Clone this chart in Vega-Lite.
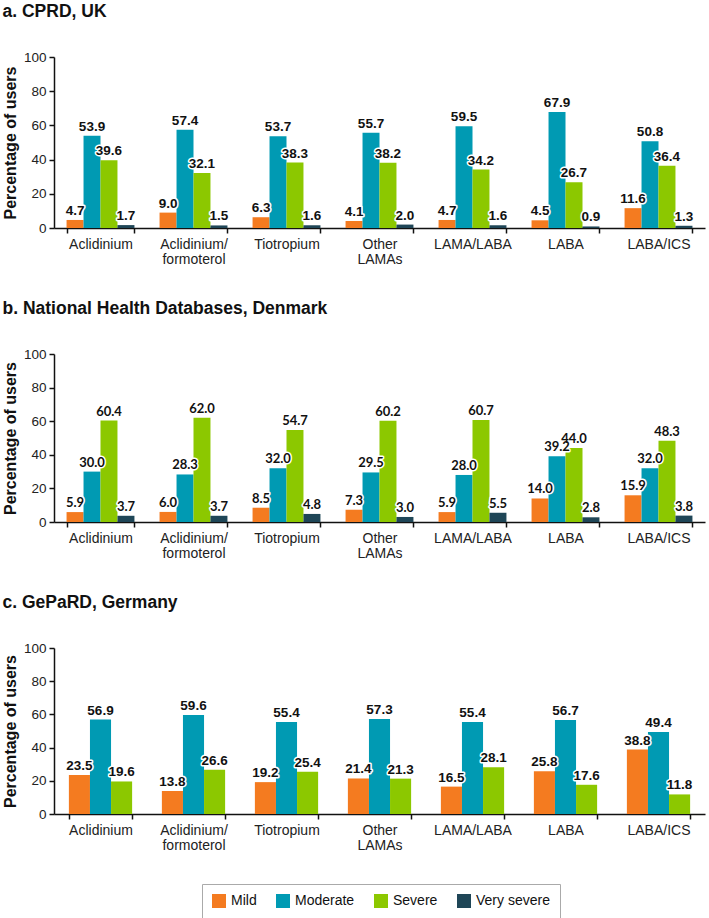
{
  "$schema": "https://vega.github.io/schema/vega-lite/v6.json",
  "padding": {"left": 2, "top": 2, "right": 2, "bottom": 0},
  "background": "white",
  "config": {
    "view": {"stroke": null},
    "font": "Liberation Sans",
    "title": {"font": "Liberation Sans", "fontSize": 17.5, "fontWeight": "bold", "anchor": "start", "frame": "bounds", "color": "#111111", "offset": 30},
    "axis": {"domainColor": "#111111", "domainWidth": 1.5, "tickColor": "#111111", "tickWidth": 1.5, "tickSize": 5, "labelFont": "Liberation Sans", "labelColor": "#222222", "grid": false},
    "axisX": {"labelFontSize": 14, "labelAngle": 0, "labelPadding": 4, "tickBand": "extent", "labelLineHeight": 15, "labelBaseline": "top", "title": null},
    "axisY": {"labelFontSize": 13.5, "labelPadding": 3, "titleFontSize": 16, "titleFontWeight": "bold", "titleColor": "#111111", "titlePadding": 5, "titleFont": "Liberation Sans"},
    "legend": {"orient": "none", "legendX": 148, "legendY": 827, "direction": "horizontal", "title": null, "symbolType": "square", "symbolSize": 196, "symbolStrokeWidth": 0, "labelFontSize": 14, "labelFont": "Liberation Sans", "labelColor": "#111111", "strokeColor": "#aaaaaa", "padding": 10, "columnPadding": 19, "labelOffset": 5}
  },
  "datasets": {
    "a": [
      {"d": "Aclidinium", "s": "Mild", "v": 4.7}, {"d": "Aclidinium", "s": "Moderate", "v": 53.9}, {"d": "Aclidinium", "s": "Severe", "v": 39.6}, {"d": "Aclidinium", "s": "Very severe", "v": 1.7},
      {"d": "Aclidinium/formoterol", "s": "Mild", "v": 9.0}, {"d": "Aclidinium/formoterol", "s": "Moderate", "v": 57.4}, {"d": "Aclidinium/formoterol", "s": "Severe", "v": 32.1}, {"d": "Aclidinium/formoterol", "s": "Very severe", "v": 1.5},
      {"d": "Tiotropium", "s": "Mild", "v": 6.3}, {"d": "Tiotropium", "s": "Moderate", "v": 53.7}, {"d": "Tiotropium", "s": "Severe", "v": 38.3}, {"d": "Tiotropium", "s": "Very severe", "v": 1.6},
      {"d": "Other LAMAs", "s": "Mild", "v": 4.1}, {"d": "Other LAMAs", "s": "Moderate", "v": 55.7}, {"d": "Other LAMAs", "s": "Severe", "v": 38.2}, {"d": "Other LAMAs", "s": "Very severe", "v": 2.0},
      {"d": "LAMA/LABA", "s": "Mild", "v": 4.7}, {"d": "LAMA/LABA", "s": "Moderate", "v": 59.5}, {"d": "LAMA/LABA", "s": "Severe", "v": 34.2}, {"d": "LAMA/LABA", "s": "Very severe", "v": 1.6},
      {"d": "LABA", "s": "Mild", "v": 4.5}, {"d": "LABA", "s": "Moderate", "v": 67.9}, {"d": "LABA", "s": "Severe", "v": 26.7}, {"d": "LABA", "s": "Very severe", "v": 0.9},
      {"d": "LABA/ICS", "s": "Mild", "v": 11.6}, {"d": "LABA/ICS", "s": "Moderate", "v": 50.8}, {"d": "LABA/ICS", "s": "Severe", "v": 36.4}, {"d": "LABA/ICS", "s": "Very severe", "v": 1.3}
    ],
    "b": [
      {"d": "Aclidinium", "s": "Mild", "v": 5.9}, {"d": "Aclidinium", "s": "Moderate", "v": 30.0}, {"d": "Aclidinium", "s": "Severe", "v": 60.4}, {"d": "Aclidinium", "s": "Very severe", "v": 3.7},
      {"d": "Aclidinium/formoterol", "s": "Mild", "v": 6.0}, {"d": "Aclidinium/formoterol", "s": "Moderate", "v": 28.3}, {"d": "Aclidinium/formoterol", "s": "Severe", "v": 62.0}, {"d": "Aclidinium/formoterol", "s": "Very severe", "v": 3.7},
      {"d": "Tiotropium", "s": "Mild", "v": 8.5}, {"d": "Tiotropium", "s": "Moderate", "v": 32.0}, {"d": "Tiotropium", "s": "Severe", "v": 54.7}, {"d": "Tiotropium", "s": "Very severe", "v": 4.8},
      {"d": "Other LAMAs", "s": "Mild", "v": 7.3}, {"d": "Other LAMAs", "s": "Moderate", "v": 29.5}, {"d": "Other LAMAs", "s": "Severe", "v": 60.2}, {"d": "Other LAMAs", "s": "Very severe", "v": 3.0},
      {"d": "LAMA/LABA", "s": "Mild", "v": 5.9}, {"d": "LAMA/LABA", "s": "Moderate", "v": 28.0}, {"d": "LAMA/LABA", "s": "Severe", "v": 60.7}, {"d": "LAMA/LABA", "s": "Very severe", "v": 5.5},
      {"d": "LABA", "s": "Mild", "v": 14.0}, {"d": "LABA", "s": "Moderate", "v": 39.2}, {"d": "LABA", "s": "Severe", "v": 44.0}, {"d": "LABA", "s": "Very severe", "v": 2.8},
      {"d": "LABA/ICS", "s": "Mild", "v": 15.9}, {"d": "LABA/ICS", "s": "Moderate", "v": 32.0}, {"d": "LABA/ICS", "s": "Severe", "v": 48.3}, {"d": "LABA/ICS", "s": "Very severe", "v": 3.8}
    ],
    "c": [
      {"d": "Aclidinium", "s": "Mild", "v": 23.5}, {"d": "Aclidinium", "s": "Moderate", "v": 56.9}, {"d": "Aclidinium", "s": "Severe", "v": 19.6},
      {"d": "Aclidinium/formoterol", "s": "Mild", "v": 13.8}, {"d": "Aclidinium/formoterol", "s": "Moderate", "v": 59.6}, {"d": "Aclidinium/formoterol", "s": "Severe", "v": 26.6},
      {"d": "Tiotropium", "s": "Mild", "v": 19.2}, {"d": "Tiotropium", "s": "Moderate", "v": 55.4}, {"d": "Tiotropium", "s": "Severe", "v": 25.4},
      {"d": "Other LAMAs", "s": "Mild", "v": 21.4}, {"d": "Other LAMAs", "s": "Moderate", "v": 57.3}, {"d": "Other LAMAs", "s": "Severe", "v": 21.3},
      {"d": "LAMA/LABA", "s": "Mild", "v": 16.5}, {"d": "LAMA/LABA", "s": "Moderate", "v": 55.4}, {"d": "LAMA/LABA", "s": "Severe", "v": 28.1},
      {"d": "LABA", "s": "Mild", "v": 25.8}, {"d": "LABA", "s": "Moderate", "v": 56.7}, {"d": "LABA", "s": "Severe", "v": 17.6},
      {"d": "LABA/ICS", "s": "Mild", "v": 38.8}, {"d": "LABA/ICS", "s": "Moderate", "v": 49.4}, {"d": "LABA/ICS", "s": "Severe", "v": 11.8}
    ]
  },
  "spacing": 33,
  "resolve": {"scale": {"x": "independent", "xOffset": "independent"}},
  "vconcat": [
    {
      "title": {"text": "a. CPRD, UK"},
      "width": 651, "height": 171,
      "data": {"name": "a"},
      "encoding": {
        "x": {"field": "d", "type": "nominal", "sort": ["Aclidinium", "Aclidinium/formoterol", "Tiotropium", "Other LAMAs", "LAMA/LABA", "LABA", "LABA/ICS"], "scale": {"paddingInner": 0.27, "paddingOuter": 0.135},
          "axis": {"labelExpr": "datum.value == 'Aclidinium/formoterol' ? ['Aclidinium/', 'formoterol'] : datum.value == 'Other LAMAs' ? ['Other', 'LAMAs'] : datum.value"}},
        "xOffset": {"field": "s", "type": "nominal", "sort": ["Mild", "Moderate", "Severe", "Very severe"]},
        "y": {"field": "v", "type": "quantitative", "scale": {"domain": [0, 100]}, "axis": {"values": [0, 20, 40, 60, 80, 100], "title": "Percentage of users"}}
      },
      "layer": [
        {"mark": {"type": "bar"}, "encoding": {"color": {"field": "s", "type": "nominal", "sort": ["Mild", "Moderate", "Severe", "Very severe"], "scale": {"domain": ["Mild", "Moderate", "Severe", "Very severe"], "range": ["#f47b20", "#009ab3", "#8cc800", "#1f4657"]}}}},
        {"mark": {"type": "text", "baseline": "bottom", "dy": -2, "fontSize": 13.5, "fontWeight": "bold", "font": "Liberation Sans", "stroke": "white", "strokeWidth": 3, "strokeJoin": "round", "fill": "white"}, "encoding": {"text": {"field": "v", "type": "quantitative", "format": ".1f"}}},
        {"mark": {"type": "text", "baseline": "bottom", "dy": -2, "fontSize": 13.5, "fontWeight": "bold", "font": "Liberation Sans", "fill": "#111111"}, "encoding": {"text": {"field": "v", "type": "quantitative", "format": ".1f"}}}
      ]
    },
    {
      "title": {"text": "b. National Health Databases, Denmark"},
      "width": 651, "height": 168,
      "data": {"name": "b"},
      "encoding": {
        "x": {"field": "d", "type": "nominal", "sort": ["Aclidinium", "Aclidinium/formoterol", "Tiotropium", "Other LAMAs", "LAMA/LABA", "LABA", "LABA/ICS"], "scale": {"paddingInner": 0.27, "paddingOuter": 0.135},
          "axis": {"labelExpr": "datum.value == 'Aclidinium/formoterol' ? ['Aclidinium/', 'formoterol'] : datum.value == 'Other LAMAs' ? ['Other', 'LAMAs'] : datum.value"}},
        "xOffset": {"field": "s", "type": "nominal", "sort": ["Mild", "Moderate", "Severe", "Very severe"]},
        "y": {"field": "v", "type": "quantitative", "scale": {"domain": [0, 100]}, "axis": {"values": [0, 20, 40, 60, 80, 100], "title": "Percentage of users"}}
      },
      "layer": [
        {"mark": {"type": "bar"}, "encoding": {"color": {"field": "s", "type": "nominal", "sort": ["Mild", "Moderate", "Severe", "Very severe"], "scale": {"domain": ["Mild", "Moderate", "Severe", "Very severe"], "range": ["#f47b20", "#009ab3", "#8cc800", "#1f4657"]}}}},
        {"mark": {"type": "text", "baseline": "bottom", "dy": -2, "fontSize": 13, "fontWeight": "bold", "font": "Lato", "stroke": "white", "strokeWidth": 3, "strokeJoin": "round", "fill": "white"}, "encoding": {"text": {"field": "v", "type": "quantitative", "format": ".1f"}}},
        {"mark": {"type": "text", "baseline": "bottom", "dy": -2, "fontSize": 13, "fontWeight": "bold", "font": "Lato", "fill": "#111111"}, "encoding": {"text": {"field": "v", "type": "quantitative", "format": ".1f"}}}
      ]
    },
    {
      "title": {"text": "c. GePaRD, Germany"},
      "width": 651, "height": 166,
      "data": {"name": "c"},
      "encoding": {
        "x": {"field": "d", "type": "nominal", "sort": ["Aclidinium", "Aclidinium/formoterol", "Tiotropium", "Other LAMAs", "LAMA/LABA", "LABA", "LABA/ICS"], "scale": {"paddingInner": 0.32, "paddingOuter": 0.16},
          "axis": {"labelExpr": "datum.value == 'Aclidinium/formoterol' ? ['Aclidinium/', 'formoterol'] : datum.value == 'Other LAMAs' ? ['Other', 'LAMAs'] : datum.value"}},
        "xOffset": {"field": "s", "type": "nominal", "sort": ["Mild", "Moderate", "Severe"]},
        "y": {"field": "v", "type": "quantitative", "scale": {"domain": [0, 100]}, "axis": {"values": [0, 20, 40, 60, 80, 100], "title": "Percentage of users"}}
      },
      "layer": [
        {"mark": {"type": "bar"}, "encoding": {"color": {"field": "s", "type": "nominal", "sort": ["Mild", "Moderate", "Severe", "Very severe"], "scale": {"domain": ["Mild", "Moderate", "Severe", "Very severe"], "range": ["#f47b20", "#009ab3", "#8cc800", "#1f4657"]}}}},
        {"mark": {"type": "text", "baseline": "bottom", "dy": -2, "fontSize": 13.5, "fontWeight": "bold", "font": "Liberation Sans", "stroke": "white", "strokeWidth": 3, "strokeJoin": "round", "fill": "white"}, "encoding": {"text": {"field": "v", "type": "quantitative", "format": ".1f"}}},
        {"mark": {"type": "text", "baseline": "bottom", "dy": -2, "fontSize": 13.5, "fontWeight": "bold", "font": "Liberation Sans", "fill": "#111111"}, "encoding": {"text": {"field": "v", "type": "quantitative", "format": ".1f"}}}
      ]
    }
  ]
}
